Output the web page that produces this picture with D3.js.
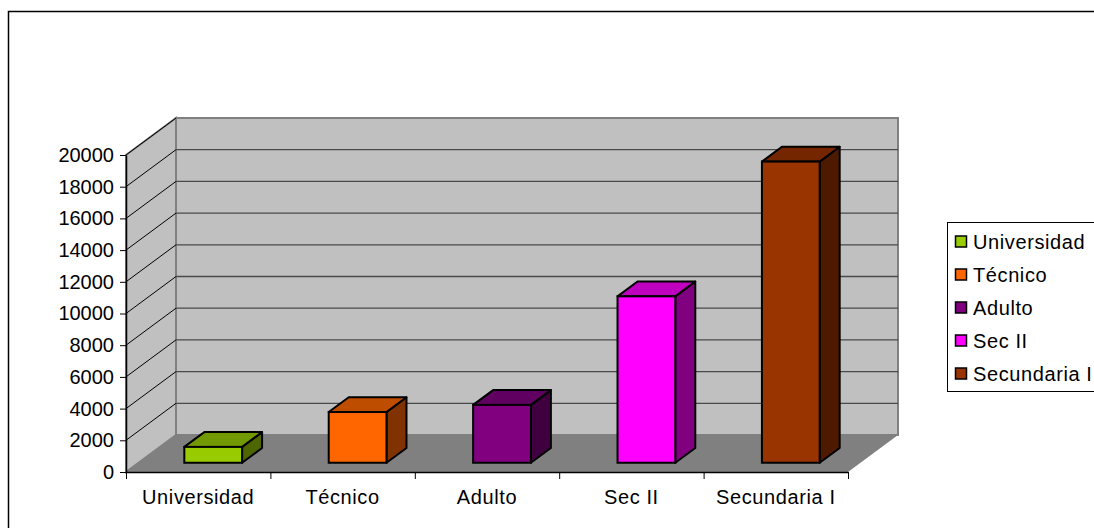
<!DOCTYPE html>
<html>
<head>
<meta charset="utf-8">
<script src="https://cdn.jsdelivr.net/npm/d3@7"></script>
<style>
  body { margin: 0; background: #fff; }
  text { font-family: "Liberation Sans", Arial, sans-serif; fill: #000; }
</style>
</head>
<body>
<div id="chart"></div>
<script>
const categories = ["Universidad", "Técnico", "Adulto", "Sec II", "Secundaria I"];
const values = [1000, 3200, 3650, 10500, 19000];
const yTicks = [0, 2000, 4000, 6000, 8000, 10000, 12000, 14000, 16000, 18000, 20000];
const frontColors = ["#99cc00", "#ff6600", "#800080", "#ff00ff", "#993300"];

const width = 1094;
const height = 528;

// 3d depth of the plot box
const dx = 50;
const dy = -37;

const svg = d3.select("#chart")
    .append("svg")
    .attr("width", width)
    .attr("height", height);

// outer chart border (right and bottom edges run off the page)
svg.append("rect")
    .attr("x", 8.5).attr("y", 11.5)
    .attr("width", 1095).attr("height", 530)
    .attr("fill", "#fff")
    .attr("stroke", "#000")
    .attr("stroke-width", 1.5);

const x = d3.scaleBand()
    .domain(categories)
    .range([126, 848])
    .padding(0);

const y = d3.scaleLinear()
    .domain([0, 20000])
    .range([472, 155]);

const x0 = 126, x1 = 848;
const y0 = y(0), yTop = y(20000);

// side wall
svg.append("polygon")
    .attr("points", [[x0, y0], [x0, yTop], [x0 + dx, yTop + dy], [x0 + dx, y0 + dy]].join(" "))
    .attr("fill", "#c0c0c0")
    .attr("stroke", "#808080")
    .attr("stroke-width", 2);

// back wall
svg.append("polygon")
    .attr("points", [[x0 + dx, yTop + dy], [x1 + dx, yTop + dy], [x1 + dx, y0 + dy], [x0 + dx, y0 + dy]].join(" "))
    .attr("fill", "#c0c0c0")
    .attr("stroke", "#808080")
    .attr("stroke-width", 2);

// floor
svg.append("polygon")
    .attr("points", [[x0, y0], [x1, y0], [x1 + dx, y0 + dy], [x0 + dx, y0 + dy]].join(" "))
    .attr("fill", "#808080");

// gridlines
const grid = yTicks.filter(t => t > 0);
svg.selectAll(".gback")
    .data(grid)
    .join("line")
    .attr("x1", x0 + dx).attr("x2", x1 + dx)
    .attr("y1", d => y(d) + dy).attr("y2", d => y(d) + dy)
    .attr("stroke", d => d === 20000 ? "#808080" : "#4a4a4a")
    .attr("stroke-width", d => d === 20000 ? 2 : 1.3);

svg.selectAll(".gside")
    .data(grid)
    .join("line")
    .attr("x1", x0).attr("x2", x0 + dx)
    .attr("y1", d => y(d)).attr("y2", d => y(d) + dy)
    .attr("stroke", "#000")
    .attr("stroke-width", 1);

// bars
const barW = x.bandwidth() * 0.4;
const dFront = 0.25;
const dDepth = 0.4;
const bdx = dx * dDepth, bdy = dy * dDepth;

const bars = svg.selectAll(".bar")
    .data(categories.map((c, i) => ({ c, v: values[i], col: frontColors[i] })))
    .join("g");

bars.each(function(d) {
    const g = d3.select(this);
    const bx = x(d.c) + (x.bandwidth() - barW) / 2 + dx * dFront + 2.5;
    const bBase = y(0) + dy * dFront;
    const bTop = y(d.v) + dy * dFront;
    const c = d3.color(d.col);
    const top = d3.rgb(c.r * 0.75, c.g * 0.75, c.b * 0.75);
    const side = d3.rgb(c.r * 0.5, c.g * 0.5, c.b * 0.5);

    g.append("polygon")
        .attr("points", [[bx + barW, bTop], [bx + barW + bdx, bTop + bdy], [bx + barW + bdx, bBase + bdy], [bx + barW, bBase]].join(" "))
        .attr("fill", side)
        .attr("stroke", "#000").attr("stroke-width", 2).attr("stroke-linejoin", "round");
    g.append("polygon")
        .attr("points", [[bx, bTop], [bx + bdx, bTop + bdy], [bx + barW + bdx, bTop + bdy], [bx + barW, bTop]].join(" "))
        .attr("fill", top)
        .attr("stroke", "#000").attr("stroke-width", 2).attr("stroke-linejoin", "round");
    g.append("rect")
        .attr("x", bx).attr("y", bTop)
        .attr("width", barW).attr("height", bBase - bTop)
        .attr("fill", d.col)
        .attr("stroke", "#000").attr("stroke-width", 2);
});

// axes
const yAxis = svg.append("g")
    .attr("transform", `translate(${x0},0)`)
    .call(d3.axisLeft(y).tickValues(yTicks).tickSize(6).tickSizeOuter(0).tickFormat(d3.format("d")));
yAxis.select(".domain").attr("stroke", "#000").attr("stroke-width", 1.5);
yAxis.selectAll("text").style("font-size", "20px").attr("x", -12);

const xAxis = svg.append("g")
    .attr("transform", `translate(0,${y0})`)
    .call(d3.axisBottom(d3.scaleLinear().domain([0, categories.length]).range([x0, x1]))
        .tickValues(d3.range(categories.length + 1)).tickSize(7).tickSizeOuter(0).tickFormat(""));
xAxis.select(".domain").attr("stroke", "#000").attr("stroke-width", 1.5);

svg.selectAll(".xlab")
    .data(categories)
    .join("text")
    .attr("x", d => x(d) + x.bandwidth() / 2)
    .attr("y", 504)
    .attr("text-anchor", "middle")
    .style("font-size", "20px")
    .style("letter-spacing", "0.6px")
    .text(d => d);

// legend
const legend = svg.append("g")
    .attr("transform", "translate(947,222)");
legend.append("rect")
    .attr("x", 0.5).attr("y", 0.5)
    .attr("width", 170).attr("height", 169)
    .attr("fill", "#fff")
    .attr("stroke", "#000").attr("stroke-width", 1);
categories.forEach((c, i) => {
    const ry = 19.5 + i * 33;
    legend.append("rect")
        .attr("x", 8.5).attr("y", ry - 5.5)
        .attr("width", 11).attr("height", 11)
        .attr("fill", frontColors[i])
        .attr("stroke", "#000").attr("stroke-width", 1.5);
    legend.append("text")
        .attr("x", 26).attr("y", ry)
        .attr("dy", "0.35em")
        .style("font-size", "20px")
        .style("letter-spacing", "0.6px")
        .text(c);
});
</script>
</body>
</html>
